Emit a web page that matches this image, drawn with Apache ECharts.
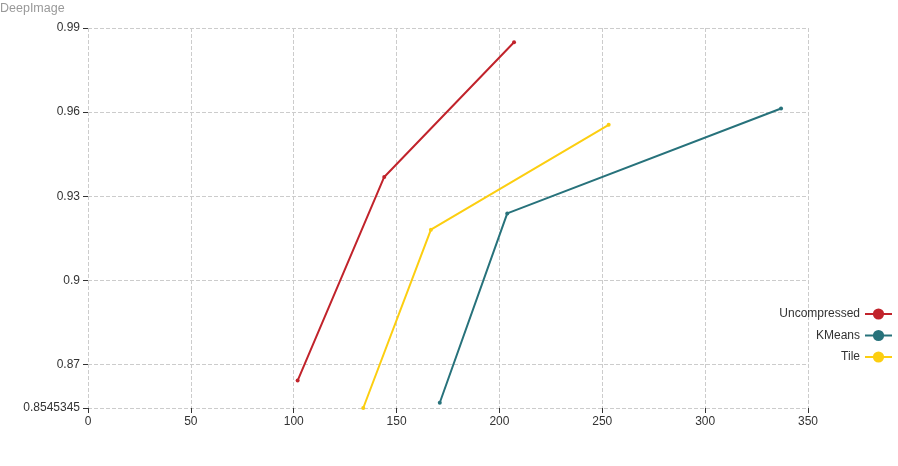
<!DOCTYPE html>
<html>
<head>
<meta charset="utf-8">
<script src="https://cdn.jsdelivr.net/npm/echarts@6/dist/echarts.min.js"></script>
<style>html,body{margin:0;padding:0;background:#fff}#c{width:898px;height:466px}</style>
</head>
<body>
<div id="c"></div>
<script>
const seriesNames = ['Uncompressed', 'KMeans', 'Tile'];
const uncompressedX = [101.9, 144.0, 207.1];
const uncompressedY = [0.8643, 0.9369, 0.9849];
const kmeansX = [171.0, 203.8, 336.9];
const kmeansY = [0.8564, 0.9239, 0.9613];
const tileX = [133.8, 166.7, 253.1];
const tileY = [0.8545345, 0.9181, 0.9555];
const colors = ['#C1232B', '#27727B', '#FCCE10'];
const yMin = 0.8545345, yMax = 0.99;
const yTicks = [0.8545345, 0.87, 0.9, 0.93, 0.96, 0.99];

function pairs(xs, ys) { return xs.map((x, i) => [x, ys[i]]); }
const seriesData = [pairs(uncompressedX, uncompressedY), pairs(kmeansX, kmeansY), pairs(tileX, tileY)];

const chart = echarts.init(document.getElementById('c'));
chart.setOption({
  animation: false,
  color: colors,
  textStyle: { fontFamily: 'Liberation Sans, Arial, sans-serif' },
  title: { text: 'DeepImage', left: 0, top: 0, padding: [2, 0, 0, 0], textStyle: { fontSize: 12.5, fontWeight: 'normal', color: '#999' } },
  legend: {
    orient: 'vertical', right: 0, align: 'right',
    itemWidth: 27, itemHeight: 14, itemGap: 9.5,
    top: 303,
    textStyle: { fontSize: 12, color: '#333' },
    data: seriesNames
  },
  grid: { left: 88, right: 90, top: 28, bottom: 58 },
  xAxis: {
    type: 'value', min: 0, max: 350, interval: 50,
    axisLine: { show: false },
    axisTick: { show: true, lineStyle: { color: '#333' }, length: 5 },
    axisLabel: { color: '#333', fontSize: 12, margin: 8 },
    splitLine: { show: true, lineStyle: { type: 'dashed', color: '#ccc' } }
  },
  yAxis: {
    type: 'value', min: yMin, max: yMax,
    axisLine: { show: false },
    axisTick: { show: true, lineStyle: { color: '#333' }, length: 5, customValues: yTicks },
    axisLabel: { color: '#333', fontSize: 12, margin: 8, customValues: yTicks },
    splitLine: { show: true, lineStyle: { type: 'dashed', color: '#ccc' } }
  },
  series: seriesNames.map((n, i) => ({
    name: n, type: 'line', data: seriesData[i],
    symbol: 'circle', symbolSize: 4, showSymbol: true,
    lineStyle: { width: 2 }
  }))
});
</script>
</body>
</html>
